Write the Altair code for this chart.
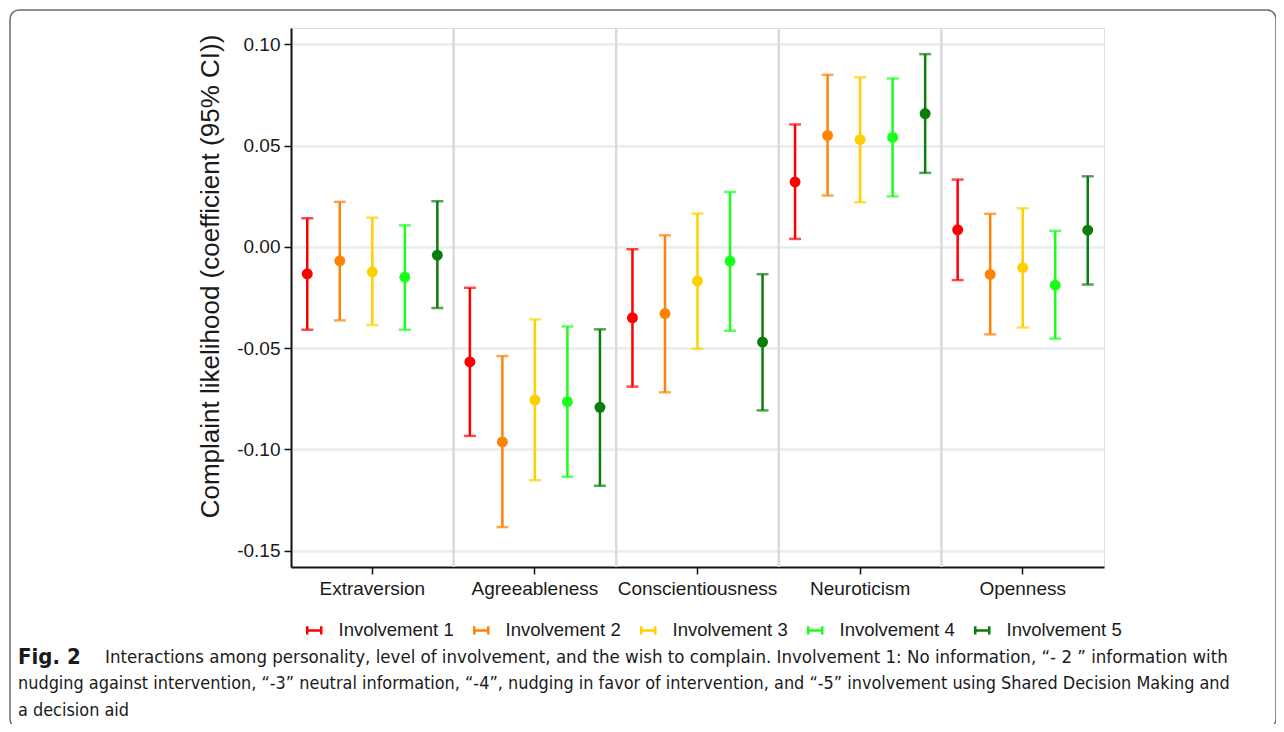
import altair as alt
import pandas as pd

# ---- data ----
categories = ["Extraversion", "Agreeableness", "Conscientiousness", "Neuroticism", "Openness"]
groups = ["Involvement 1", "Involvement 2", "Involvement 3", "Involvement 4", "Involvement 5"]
colors = ["#ff0000", "#ff8205", "#ffd000", "#19ff19", "#0a7d0a"]

inv1_est = [-0.0133, -0.0568, -0.0350, 0.0320, 0.0084]
inv1_lo = [-0.0409, -0.0933, -0.0690, 0.0039, -0.0164]
inv1_hi = [0.0141, -0.0202, -0.0012, 0.0604, 0.0332]
inv2_est = [-0.0069, -0.0963, -0.0329, 0.0550, -0.0136]
inv2_lo = [-0.0363, -0.1383, -0.0718, 0.0253, -0.0432]
inv2_hi = [0.0222, -0.0539, 0.0057, 0.0849, 0.0163]
inv3_est = [-0.0123, -0.0756, -0.0169, 0.0529, -0.0103]
inv3_lo = [-0.0386, -0.1152, -0.0503, 0.0220, -0.0398]
inv3_hi = [0.0144, -0.0358, 0.0164, 0.0837, 0.0190]
inv4_est = [-0.0150, -0.0764, -0.0071, 0.0540, -0.0189]
inv4_lo = [-0.0409, -0.1135, -0.0414, 0.0249, -0.0453]
inv4_hi = [0.0106, -0.0393, 0.0271, 0.0831, 0.0079]
inv5_est = [-0.0041, -0.0792, -0.0470, 0.0658, 0.0082]
inv5_lo = [-0.0302, -0.1179, -0.0807, 0.0365, -0.0186]
inv5_hi = [0.0225, -0.0407, -0.0135, 0.0951, 0.0348]

y_ticks = [-0.15, -0.10, -0.05, 0.0, 0.05, 0.10]
y_title = "Complaint likelihood (coefficient (95% CI))"

caption_bold = "Fig. 2"
caption_lines = [
    "Interactions among personality, level of involvement, and the wish to complain. Involvement 1: No information, \u201c- 2 \u201d information with",
    "nudging against intervention, \u201c-3\u201d neutral information, \u201c-4\u201d, nudging in favor of intervention, and \u201c-5\u201d involvement using Shared Decision Making and",
    "a decision aid",
]

# ---- build table ----
ests = [inv1_est, inv2_est, inv3_est, inv4_est, inv5_est]
los = [inv1_lo, inv2_lo, inv3_lo, inv4_lo, inv5_lo]
his = [inv1_hi, inv2_hi, inv3_hi, inv4_hi, inv5_hi]
rows = []
for g, e, l, h in zip(groups, ests, los, his):
    for c, ev, lv, hv in zip(categories, e, l, h):
        rows.append({"trait": c, "group": g, "est": ev, "lo": lv, "hi": hv})
df = pd.DataFrame(rows)

FONT = "Liberation Sans"
x_enc = alt.X("trait:N", sort=categories,
              scale=alt.Scale(paddingInner=0, paddingOuter=0),
              axis=alt.Axis(title=None, labelFontSize=19, labelFont=FONT, labelColor="#1a1a1a",
                            labelAngle=0, labelAlign="center", labelBaseline="top",
                            tickColor="#111", tickSize=7, tickWidth=1.5,
                            domainColor="#111", domainWidth=2, labelPadding=5, grid=False))
xo_enc = alt.XOffset("group:N", sort=groups, scale=alt.Scale(paddingInner=0, paddingOuter=0))
y_scale = alt.Scale(domain=[-0.158, 0.108], nice=False, zero=False)
color_scale = alt.Scale(domain=groups, range=colors)

base = alt.Chart(df)

rules = base.mark_rule(strokeWidth=2.5).encode(
    x=x_enc, xOffset=xo_enc,
    y=alt.Y("lo:Q", scale=y_scale,
            axis=alt.Axis(values=y_ticks, labelExpr="replace(format(datum.value, '.2f'), '\u2212', '-')",
                          title=y_title, titleFontSize=26, titleY=248,
                          titleFont=FONT, titleFontWeight="normal", titleColor="#1a1a1a",
                          titlePadding=13, labelFontSize=19, labelFont=FONT, labelColor="#1a1a1a",
                          tickColor="#111", tickSize=7, tickWidth=1.5, domainColor="#111",
                          domainWidth=2, gridColor="#e6ecf0", gridWidth=2.5, labelPadding=4)),
    y2="hi:Q",
    color=alt.Color("group:N", sort=groups, scale=color_scale,
                    legend=alt.Legend(title=None, orient="none", direction="horizontal",
                                      legendX=14, legendY=593,
                                      symbolType="M-1,-0.6V0.6M-1,0H1M1,-0.6V0.6",
                                      symbolSize=196, symbolStrokeWidth=2.5,
                                      labelFontSize=18.5, labelFont=FONT, labelColor="#1a1a1a",
                                      labelOffset=15, columnPadding=15, padding=0)),
)

caps_lo = base.mark_tick(orient="horizontal", size=12, thickness=2.5).encode(
    x=x_enc, xOffset=xo_enc, y=alt.Y("lo:Q", scale=y_scale),
    color=alt.Color("group:N", scale=color_scale, legend=None))
caps_hi = base.mark_tick(orient="horizontal", size=12, thickness=2.5).encode(
    x=x_enc, xOffset=xo_enc, y=alt.Y("hi:Q", scale=y_scale),
    color=alt.Color("group:N", scale=color_scale, legend=None))
points = base.mark_circle(size=120, opacity=1).encode(
    x=x_enc, xOffset=xo_enc, y=alt.Y("est:Q", scale=y_scale),
    color=alt.Color("group:N", scale=color_scale, legend=None))

sep_df = pd.DataFrame({"trait": categories[1:]})
separators = alt.Chart(sep_df).mark_rule(color="#d9dadb", strokeWidth=2.5).encode(
    x=alt.X("trait:N", sort=categories, bandPosition=0))

frame = alt.Chart(pd.DataFrame({"k": [0]})).mark_rect(
    fill="transparent", stroke="#6b6b6b", strokeWidth=1.5, cornerRadius=9).encode(
    x=alt.value(-281), x2=alt.value(985), y=alt.value(-18), y2=alt.value(700))

cap_font = "DejaVu Sans Condensed, Liberation Sans"
fig_label = alt.Chart(pd.DataFrame({"t": [caption_bold]})).mark_text(
    align="left", baseline="middle", fontSize=22, font=cap_font, fontWeight="bold", color="#1a1a1a").encode(
    text="t:N", x=alt.value(-273), y=alt.value(629))
cap_layers = []
cap_x = [-186, -273, -273]
cap_y = [629, 656, 683]
cap_size = [18.5, 17.9, 17.9]
for line, cx, cy, cs in zip(caption_lines, cap_x, cap_y, cap_size):
    cap_layers.append(alt.Chart(pd.DataFrame({"t": [line]})).mark_text(
        align="left", baseline="middle", fontSize=cs, font=cap_font, color="#1a1a1a").encode(
        text="t:N", x=alt.value(cx), y=alt.value(cy)))

chart = alt.layer(separators, rules, caps_lo, caps_hi, points, frame, fig_label, *cap_layers).properties(
    width=813, height=539,
    padding={"left": 283, "top": 20, "right": 172, "bottom": 157},
    autosize=alt.AutoSizeParams(type="none"),
).configure_view(stroke=None).configure(background="white")

chart.save("out.html", embed_options={"renderer": "svg", "actions": False})
